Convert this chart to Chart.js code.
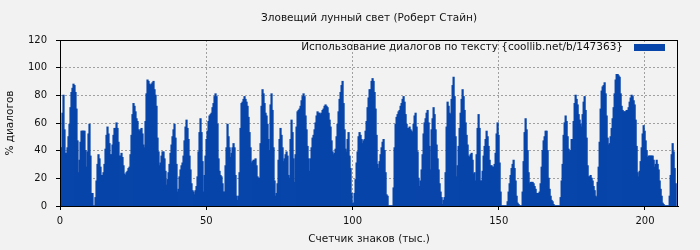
<!DOCTYPE html>
<html>
<head>
<meta charset="utf-8">
<script src="https://cdn.jsdelivr.net/npm/chart.js@4.4.0/dist/chart.umd.min.js"></script>
<style>
  html, body { margin: 0; padding: 0; background: #f2f2f2; }
  #wrap { width: 700px; height: 250px; }
</style>
</head>
<body>
<div id="wrap"><canvas id="chart" width="700" height="250"></canvas></div>
<script>
const chartTitle = 'Зловещий лунный свет (Роберт Стайн)';
const seriesLabel = 'Использование диалогов по тексту {coollib.net/b/147363}';
const xTitle = 'Счетчик знаков (тыс.)';
const yTitle = '% диалогов';
const xTicks = [0, 50, 100, 150, 200];
const yTicks = [0, 20, 40, 60, 80, 100, 120];
const xMax = 211.3;
const step = 0.342; // тыс. знаков на один столбик

// % диалогов, столбик за столбиком
const dialog = [
  42,42,67,80,55,38,38,42,50,59, 71,82,85,88,87,82,70,47,24,33,
  46,54,54,54,54,40,28,39,52,59, 36,9,9,0,0,6,18,30,37,34,
  28,22,22,24,30,41,51,57,52,45, 37,37,44,51,56,56,60,56,46,36,
  36,38,35,29,23,22,24,25,27,28, 37,51,66,74,72,68,63,61,55,54,
  55,56,52,44,42,61,81,91,90,88, 87,88,89,90,84,80,72,49,39,29,
  31,36,39,39,
  34,25,15,19,24,30,38,44,50,55, 59,49,30,10,12,21,26,29,31,36,
  47,57,62,56,48,36,26,16,11,10, 8,11,14,21,39,53,63,53,32,10,
  22,36,48,54,61,65,66,67,71,74, 79,81,79,59,34,25,22,21,16,10,
  10,29,42,59,50,42,35,38,42,45, 42,22,7,4,7,24,56,74,75,77,
  79,77,75,72,64,53,42,31,32,33, 33,34,29,21,20,20,45,72,84,81,
  74,67,65,59,
  48,40,73,81,69,42,18,7,9,16, 33,48,56,51,42,32,34,37,39,36,
  22,20,48,62,53,34,17,37,57,68, 69,70,72,76,79,81,79,65,55,43,
  34,25,34,42,49,51,55,60,65,68, 67,67,66,67,69,70,72,73,72,71,
  67,62,57,47,39,37,38,41,50,59, 68,77,82,87,90,74,55,41,39,48,
  53,36,27,9,2,2,9,19,31,39, 50,53,51,48,45,47,48,54,61,71,
  78,84,
  84,90,92,90,82,70,51,30,27,32, 37,42,46,48,40,24,8,7,0,0,
  0,0,0,13,42,59,64,66,68,69, 72,74,77,79,75,66,59,56,56,57,
  55,54,53,59,65,67,57,39,20,14, 18,26,37,52,60,63,67,69,60,43,
  26,55,63,71,66,55,44,34,26,16, 10,6,1,4,6,24,57,75,72,67,
  66,77,87,93,79,50,21,29,43,56, 67,77,84,79,69,60,51,44,36,35,
  37,38,33,23,
  24,18,37,56,66,56,18,18,25,36, 43,48,54,50,43,33,29,29,28,28,
  30,38,52,60,51,31,10,0,0,0, 0,0,0,3,10,16,22,27,30,33,
  27,18,7,2,1,0,0,0,10,32, 53,63,55,40,24,16,17,17,17,16,
  14,12,9,9,9,10,16,28,40,47, 50,54,54,40,20,12,7,4,3,1,
  0,0,0,0,0,0,6,18,30,51, 60,65,61,50,41,39,40,48,48,61,
  74,80,77,73,
  66,62,59,57,66,75,79,69,49,29, 21,21,22,20,18,14,11,7,6,17,
  28,46,70,83,86,87,89,81,65,49, 44,45,50,56,63,71,81,91,95,95,
  94,93,81,72,69,68,68,68,69,69, 71,75,78,80,79,76,73,62,43,24,
  21,25,32,42,52,58,54,47,40,35, 36,36,36,36,36,33,28,30,33,30,
  26,18,12,7,2,1,0,0,0,0, 0,7,22,37,45,39,27,16
];

const barColor = '#0845aa';
const textColor = '#111';
const fontFamily = '"DejaVu Sans", sans-serif';

const background = {
  id: 'background',
  beforeDraw(chart) {
    const ctx = chart.ctx;
    ctx.save();
    ctx.fillStyle = '#f2f2f2';
    ctx.fillRect(0, 0, chart.width, chart.height);
    ctx.restore();
  }
};

// заголовок над областью графика, рамка и легенда справа сверху
const frameAndLegend = {
  id: 'frameAndLegend',
  afterDraw(chart) {
    const { ctx, chartArea } = chart;
    ctx.save();
    ctx.strokeStyle = '#000';
    ctx.lineWidth = 1;
    ctx.strokeRect(Math.round(chartArea.left) + 0.5, Math.round(chartArea.top) + 0.5,
      Math.round(chartArea.right - chartArea.left) - 1, Math.round(chartArea.bottom - chartArea.top));

    ctx.fillStyle = textColor;
    ctx.font = '10.5px ' + fontFamily;
    ctx.textAlign = 'center';
    ctx.textBaseline = 'middle';
    ctx.fillText(chartTitle, (chartArea.left + chartArea.right) / 2, 18);

    const boxW = 31, boxH = 7;
    const boxRight = chartArea.right - 13;
    const midY = chartArea.top + 7.5;
    ctx.fillStyle = barColor;
    ctx.fillRect(boxRight - boxW, midY - boxH / 2, boxW, boxH);
    ctx.fillStyle = textColor;
    ctx.textAlign = 'right';
    ctx.fillText(seriesLabel, boxRight - boxW - 11, midY);
    ctx.restore();
  }
};

new Chart(document.getElementById('chart'), {
  type: 'bar',
  data: {
    datasets: [{
      label: seriesLabel,
      data: dialog.map((v, i) => ({ x: (i + 0.5) * step, y: v })),
      backgroundColor: barColor,
      borderWidth: 0,
      barPercentage: 1,
      categoryPercentage: 1,
      inflateAmount: 0.6
    }]
  },
  options: {
    responsive: false,
    animation: false,
    layout: { padding: { left: 0, right: 22, top: 40, bottom: 0 } },
    plugins: {
      legend: { display: false },
      tooltip: { enabled: false },
      title: { display: false }
    },
    scales: {
      x: {
        type: 'linear',
        min: 0,
        max: xMax,
        offset: false,
        afterBuildTicks: s => { s.ticks = xTicks.map(v => ({ value: v })); },
        afterFit: s => { s.height = 44; },
        ticks: { color: textColor, font: { family: fontFamily, size: 10 }, padding: 5, maxRotation: 0 },
        grid: { offset: false, color: '#a0a0a0', lineWidth: 1, tickLength: 4, tickColor: '#000', tickBorderDash: [] },
        border: { display: true, color: '#000', dash: [2, 2] },
        title: { display: true, text: xTitle, color: textColor, font: { family: fontFamily, size: 10.5 }, padding: { top: 0, bottom: 4 } }
      },
      y: {
        min: 0,
        max: 120,
        afterBuildTicks: s => { s.ticks = yTicks.map(v => ({ value: v })); },
        afterFit: s => { s.width = 60; },
        ticks: { color: textColor, font: { family: fontFamily, size: 10 }, padding: 9 },
        grid: { color: '#a0a0a0', lineWidth: 1, tickLength: 4, tickColor: '#000', tickBorderDash: [] },
        border: { display: true, color: '#000', dash: [2, 2] },
        title: { display: true, text: yTitle, color: textColor, font: { family: fontFamily, size: 10.5 }, padding: { top: 4, bottom: 0 } }
      }
    }
  },
  plugins: [background, frameAndLegend]
});
</script>
</body>
</html>
